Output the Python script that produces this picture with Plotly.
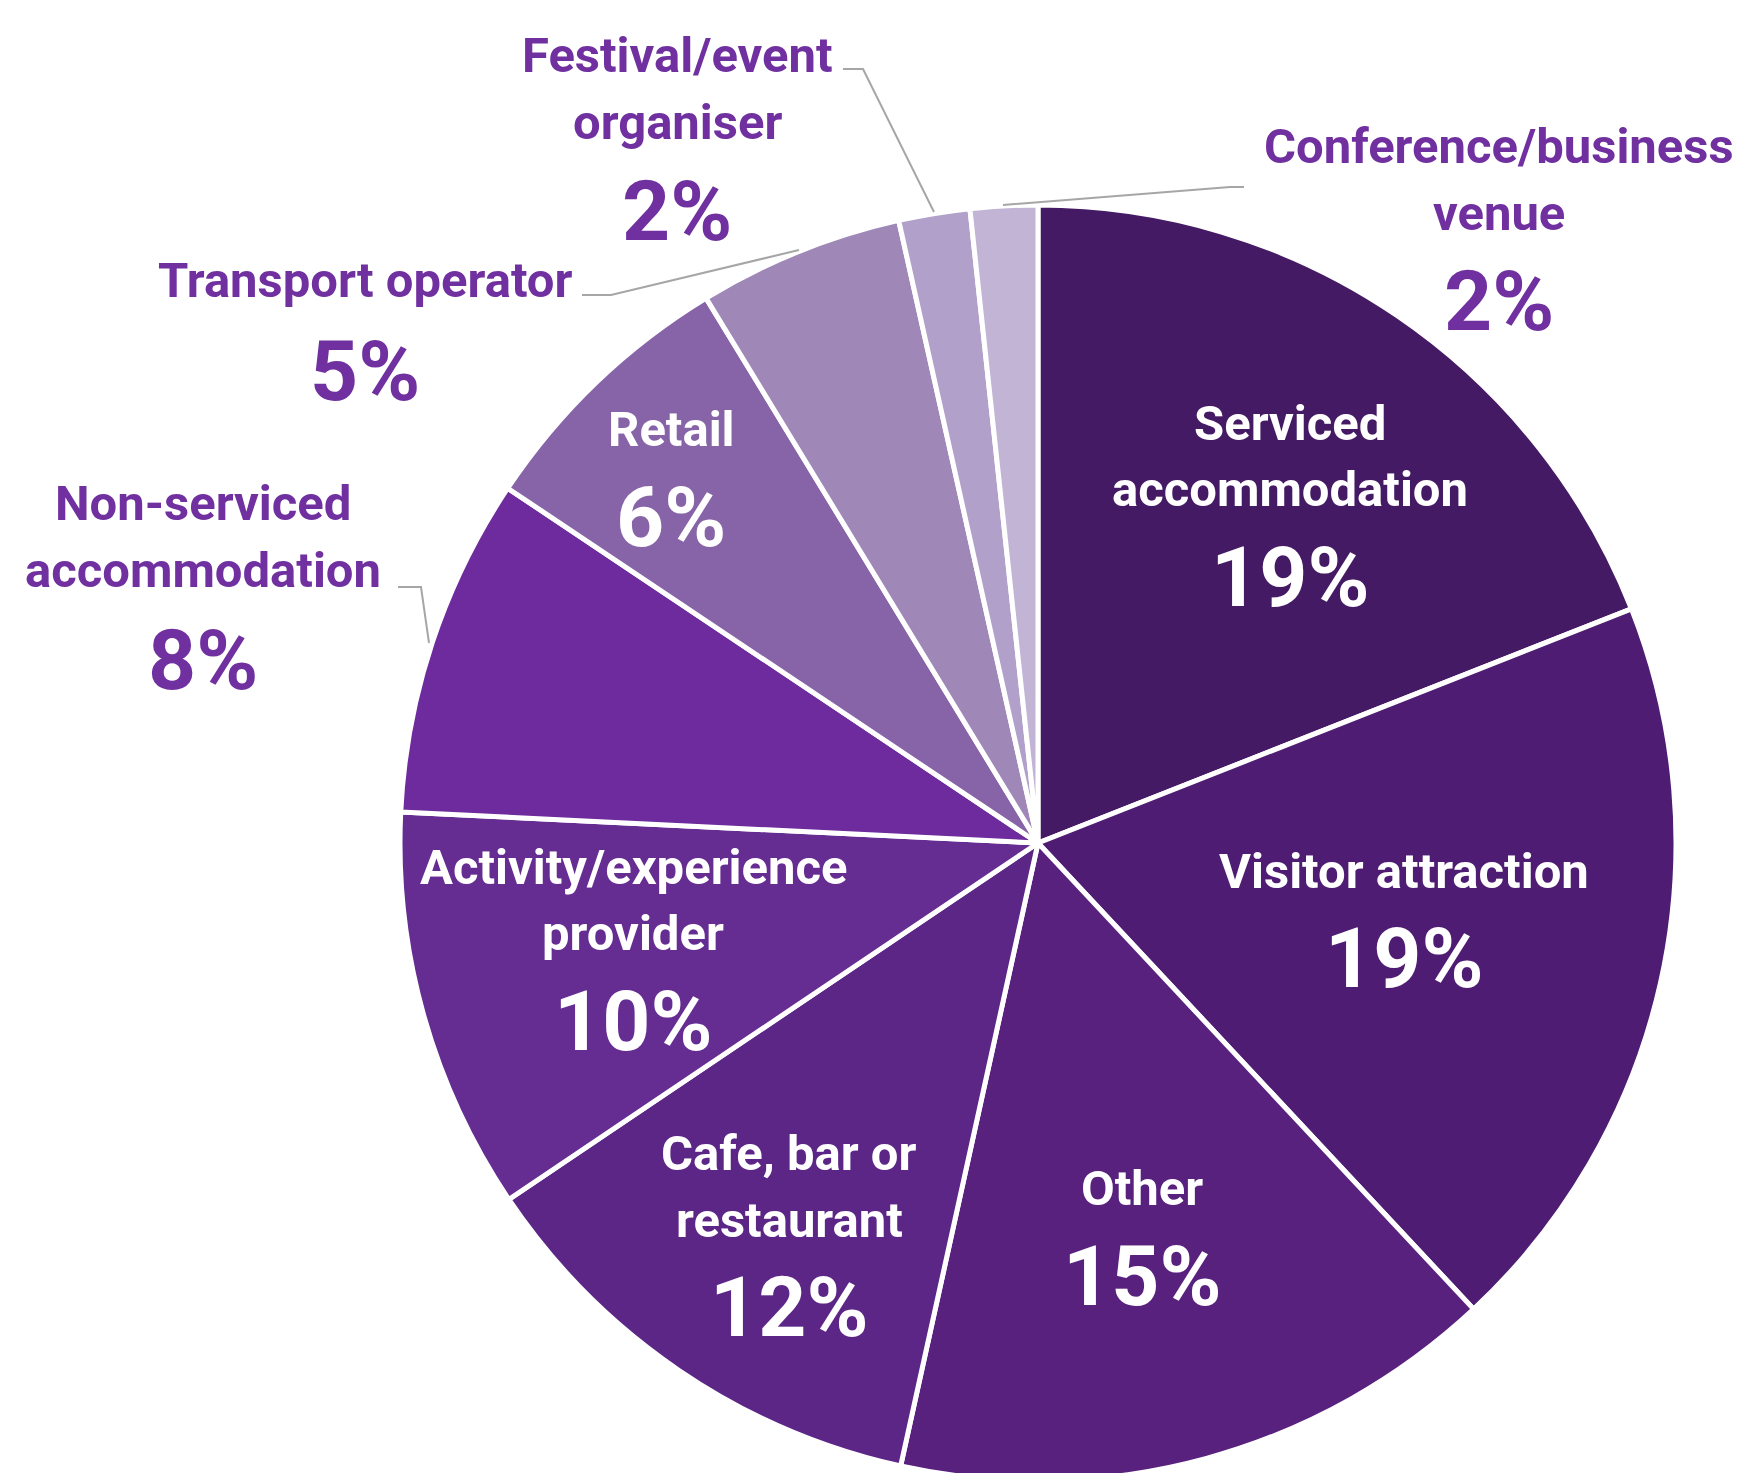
import plotly.graph_objects as go

# ---- data ----
categories = ["Serviced accommodation", "Visitor attraction", "Other", "Cafe, bar or restaurant",
              "Activity/experience provider", "Non-serviced accommodation", "Retail",
              "Transport operator", "Festival/event organiser", "Conference/business venue"]
shares = [19.0, 19.0, 15.4, 12.1, 10.2, 8.6, 6.9, 5.2, 1.8, 1.7]
pct_labels = ["19%", "19%", "15%", "12%", "10%", "8%", "6%", "5%", "2%", "2%"]
label_lines = [["Serviced", "accommodation"], ["Visitor attraction"], ["Other"],
               ["Cafe, bar or", "restaurant"], ["Activity/experience", "provider"],
               ["Non-serviced", "accommodation"], ["Retail"], ["Transport operator"],
               ["Festival/event", "organiser"], ["Conference/business", "venue"]]
colors = ["#451a64", "#4e1c72", "#58217e", "#5c2687", "#652c91", "#6d2b9d", "#8764a8",
          "#9f87b8", "#b1a0c9", "#c1b4d5"]

W, H = 1747, 1473
OFF = 8  # page body margin
cx, cy, R = 1038 - OFF, 843 - OFF, 638

fig = go.Figure(go.Pie(
    labels=categories, values=shares, sort=False, direction="clockwise", rotation=0,
    marker=dict(colors=colors, line=dict(color="white", width=5)),
    textinfo="none", hoverinfo="label+percent", showlegend=False,
    domain=dict(x=[(cx - R) / W, (cx + R) / W], y=[max(0, (H - cy - R) / H), min(1, (H - cy + R) / H)]),
))

def px(x):
    return (x - OFF) / W

def py(y):
    return 1 - (y - OFF) / H

INSIDE = "white"
OUTSIDE = "#7030a0"
FONT = "Roboto, Open Sans, Arial"

# label placement in reference pixels: (x, [line centres], pct centre, colour)
placements = {
    0: (1290, [423, 490], 577, INSIDE),
    1: (1404, [871], 958, INSIDE),
    2: (1142, [1188], 1276, INSIDE),
    3: (789, [1153, 1220], 1307, INSIDE),
    4: (633, [867, 934], 1021, INSIDE),
    5: (203, [504, 570], 660, OUTSIDE),
    6: (671, [429], 518, INSIDE),
    7: (365, [281], 371, OUTSIDE),
    8: (677, [56, 123], 212, OUTSIDE),
    9: (1499, [146, 213], 301, OUTSIDE),
}

annotations = []
for i, (x, ys, yp, col) in placements.items():
    for line, y in zip(label_lines[i], ys):
        annotations.append(dict(x=px(x), y=py(y), xref="paper", yref="paper", text=line,
                                showarrow=False, xanchor="center", yanchor="middle",
                                font=dict(family=FONT, size=49, color=col, weight="bold")))
    annotations.append(dict(x=px(x), y=py(yp), xref="paper", yref="paper", text=pct_labels[i],
                            showarrow=False, xanchor="center", yanchor="middle",
                            font=dict(family=FONT, size=84, color=col, weight="bold")))

# leader lines for outside labels (reference pixel paths)
leaders = [
    [(1003, 205), (1230, 187), (1244, 187)],
    [(934, 212), (863, 69), (843, 69)],
    [(799, 250), (611, 295), (582, 295)],
    [(429, 643), (421, 587), (398, 587)],
]
shapes = []
for pts in leaders:
    path = "M " + " L ".join(f"{px(x)},{py(y)}" for x, y in pts)
    shapes.append(dict(type="path", path=path, xref="paper", yref="paper",
                       line=dict(color="#a6a6a6", width=2)))

fig.update_layout(width=W, height=H, margin=dict(l=0, r=0, t=0, b=0),
                  paper_bgcolor="white", plot_bgcolor="white",
                  annotations=annotations, shapes=shapes)

fig.write_html("out.html")
